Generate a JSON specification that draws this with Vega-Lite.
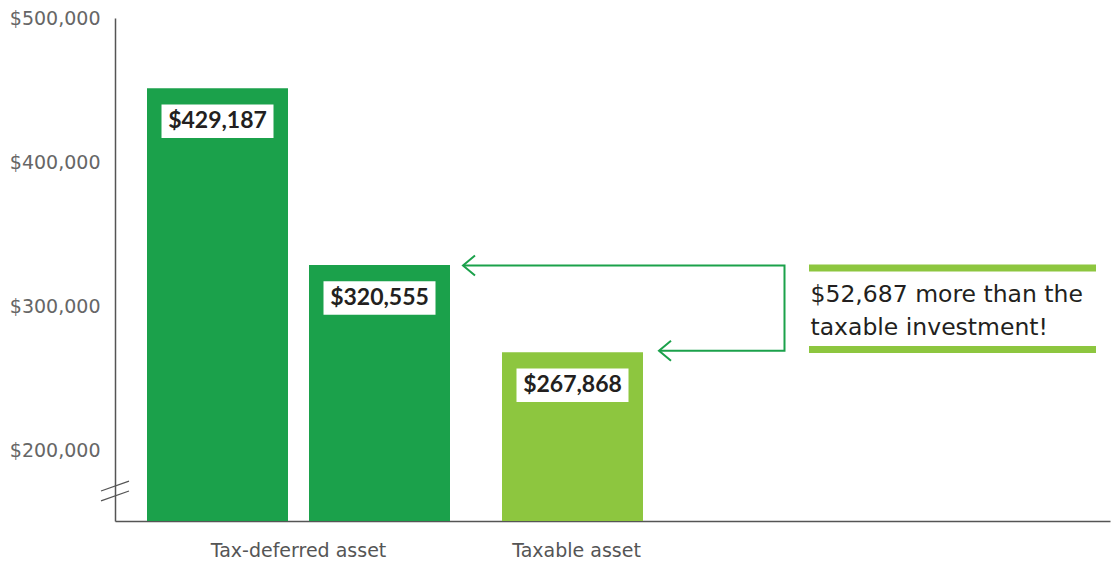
{
  "$schema": "https://vega.github.io/schema/vega-lite/v6.json",
  "width": 995,
  "height": 503,
  "autosize": "none",
  "padding": {"left": 115, "top": 18, "right": 1, "bottom": 40},
  "background": "white",
  "config": {"view": {"stroke": null}, "font": "DejaVu Sans"},
  "encoding": {
    "y": {
      "field": "value",
      "type": "quantitative",
      "scale": {"domain": [150700, 500000], "zero": false, "nice": false, "clamp": true},
      "axis": {
        "values": [200000, 300000, 400000, 500000],
        "format": "$,.0f",
        "title": null,
        "ticks": false,
        "grid": false,
        "domainColor": "#555555",
        "domainWidth": 1.5,
        "labelFontSize": 19,
        "labelFontWeight": "normal",
        "labelColor": "#666666",
        "labelPadding": 15,
        "labelFont": "DejaVu Sans"
      }
    }
  },
  "layer": [
    {
      "data": {
        "values": [
          {"group": "Tax-deferred asset", "series": "Total value", "value": 451200, "label": "$429,187"},
          {"group": "Tax-deferred asset", "series": "After-tax value", "value": 328500, "label": "$320,555"},
          {"group": "Taxable asset", "series": "Total value", "value": 267868, "label": "$267,868"}
        ]
      },
      "encoding": {
        "x": {
          "field": "group",
          "type": "nominal",
          "sort": null,
          "scale": {
            "domain": ["Tax-deferred asset", "Taxable asset"],
            "paddingInner": 0.14648,
            "paddingOuter": 0.47465,
            "align": 0.09496
          },
          "axis": {
            "title": null,
            "ticks": false,
            "grid": false,
            "labelAngle": 0,
            "domainColor": "#555555",
            "domainWidth": 1.5,
            "labelFontSize": 19,
            "labelFontWeight": "normal",
            "labelColor": "#555555",
            "labelPadding": 20,
            "labelFont": "DejaVu Sans",
            "labelOffset": {"condition": {"test": "datum.value === 'Taxable asset'", "value": -77}, "value": 0}
          }
        },
        "xOffset": {
          "field": "series",
          "type": "nominal",
          "sort": null,
          "scale": {"domain": ["Total value", "After-tax value"], "paddingInner": 0.12963, "paddingOuter": 0}
        }
      },
      "layer": [
        {
          "mark": {"type": "bar"},
          "encoding": {
            "color": {
              "field": "group",
              "type": "nominal",
              "scale": {"domain": ["Tax-deferred asset", "Taxable asset"], "range": ["#1ba14b", "#8dc63f"]},
              "legend": null
            }
          }
        },
        {
          "mark": {
            "type": "point",
            "shape": "M-1,-0.3L1,-0.3L1,0.3L-1,0.3Z",
            "size": 12544,
            "filled": true,
            "fill": "white",
            "opacity": 1,
            "strokeWidth": 0,
            "yOffset": 33
          }
        },
        {
          "mark": {
            "type": "text",
            "fontSize": 23,
            "fontWeight": "bold",
            "font": "Lato",
            "color": "#231f20",
            "baseline": "middle",
            "align": "center",
            "yOffset": 33
          },
          "encoding": {"text": {"field": "label"}}
        }
      ]
    },
    {
      "encoding": {
        "x": {"field": "pos", "type": "quantitative", "scale": {"domain": [0, 995]}, "axis": null}
      },
      "layer": [
        {
          "data": {
            "values": [
              {"step": 1, "pos": 348, "value": 328125},
              {"step": 2, "pos": 669.5, "value": 328125},
              {"step": 3, "pos": 669.5, "value": 268960},
              {"step": 4, "pos": 544, "value": 268960}
            ]
          },
          "mark": {"type": "line", "color": "#1ba14b", "strokeWidth": 2},
          "encoding": {"order": {"field": "step", "type": "quantitative"}}
        },
        {
          "data": {
            "values": [
              {"pos": 348, "value": 328125},
              {"pos": 544, "value": 268960}
            ]
          },
          "mark": {
            "type": "point",
            "shape": "M1.2,-1L0,0L1.2,1",
            "size": 400,
            "filled": false,
            "stroke": "#1ba14b",
            "strokeWidth": 2,
            "opacity": 1
          }
        },
        {
          "data": {
            "values": [
              {"pos": 694, "pos2": 981, "value": 326389},
              {"pos": 694, "pos2": 981, "value": 269792}
            ]
          },
          "mark": {"type": "rule", "color": "#8dc63f", "strokeWidth": 7},
          "encoding": {"x2": {"field": "pos2"}}
        },
        {
          "data": {
            "values": [
              {"pos": 695.5, "value": 307639, "note": "$52,687 more than the\ntaxable investment!"}
            ]
          },
          "mark": {
            "type": "text",
            "align": "left",
            "baseline": "middle",
            "fontSize": 23.5,
            "lineHeight": 33,
            "lineBreak": "\n",
            "font": "DejaVu Sans",
            "color": "#231f20"
          },
          "encoding": {"text": {"field": "note"}}
        },
        {
          "data": {"values": [{"pos": 0, "value": 171528}]},
          "mark": {
            "type": "point",
            "shape": "M-1,0L1,-0.7M-1,0.7L1,0",
            "size": 784,
            "filled": false,
            "stroke": "#555555",
            "strokeWidth": 1.3,
            "opacity": 1
          }
        }
      ]
    }
  ],
  "resolve": {"scale": {"x": "independent"}}
}
